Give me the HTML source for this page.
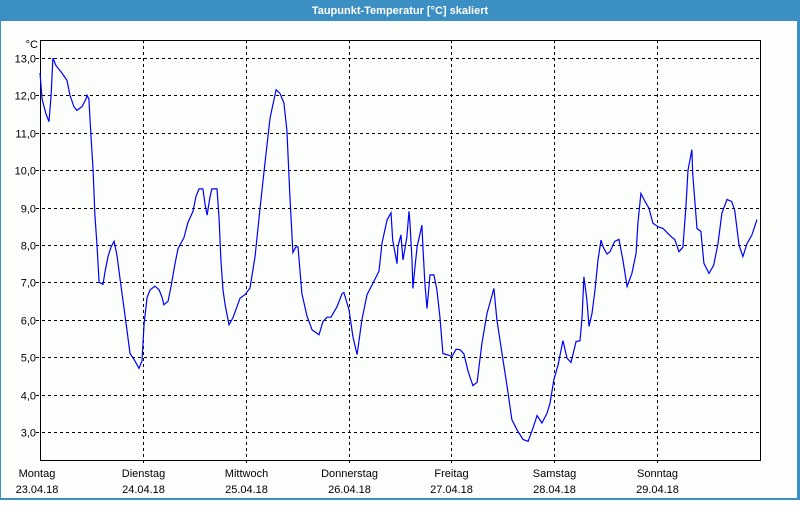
<!DOCTYPE html>
<html><head><meta charset="utf-8"><style>
body{margin:0;width:800px;height:500px;overflow:hidden;background:#fcfefc;font-family:"Liberation Sans",sans-serif}
</style></head><body>
<svg width="800" height="500" xmlns="http://www.w3.org/2000/svg" id="svg">
<rect x="0" y="0" width="800" height="500" fill="#fcfefc"/>
<rect x="0" y="0" width="800" height="21" fill="#3c8fc3"/>
<text x="400" y="14" text-anchor="middle" font-size="11" font-weight="bold" fill="#fff">Taupunkt-Temperatur [°C] skaliert</text>
<rect x="0" y="21" width="1" height="479" fill="#3c8fc3"/>
<rect x="797" y="21" width="3" height="479" fill="#3c8fc3"/>
<rect x="0" y="498" width="800" height="2" fill="#3c8fc3"/>
<text x="38" y="48" text-anchor="end" font-size="11" fill="#000">°C</text>
<g id="grid"></g>
<g id="labels"></g>
<rect x="40.5" y="40.5" width="720" height="420" fill="none" stroke="#000" stroke-width="1"/>
<path id="line" fill="none" stroke="#0000ff" stroke-width="1.2"/>
</svg>
<script>
const dayNames=["Montag","Dienstag","Mittwoch","Donnerstag","Freitag","Samstag","Sonntag"];
const dayDates=["23.04.18","24.04.18","25.04.18","26.04.18","27.04.18","28.04.18","29.04.18"];
const yTicks=[3,4,5,6,7,8,9,10,11,12,13];
const hours=[0,0.5,1.4,2.1,2.6,3.0,3.7,5.1,6.3,7.0,7.9,8.6,9.8,10.7,11.0,11.4,11.9,12.4,12.8,13.3,13.8,14.7,15.2,15.9,16.6,17.3,18.0,18.9,20.1,21.0,21.9,23.1,23.8,24.3,25.0,25.7,26.8,27.8,28.5,28.9,29.9,30.6,31.5,32.2,33.6,34.5,35.7,36.4,37.1,38.0,38.5,39.0,39.7,40.1,41.3,41.8,42.2,42.7,43.2,44.1,45.0,46.7,47.8,49.0,50.2,51.3,52.5,53.7,55.1,56.0,56.9,57.6,58.3,59.0,59.7,60.2,61.1,62.3,63.5,65.1,66.0,67.0,67.9,69.3,70.5,70.9,72.1,73.0,74.0,75.1,76.3,77.7,79.1,79.8,81.0,81.9,82.3,83.3,83.5,84.2,84.7,85.6,86.1,86.3,86.8,87.0,87.5,88.0,89.1,89.4,89.8,90.3,91.0,91.9,92.6,93.3,94.0,95.2,96.1,97.1,98.0,98.9,99.9,101.0,102.0,103.1,104.3,105.5,105.9,106.6,107.8,109.0,110.1,111.3,112.7,113.9,115.0,116.0,117.1,118.3,119.0,119.9,120.9,122.0,123.0,123.9,125.1,126.0,126.5,126.9,127.6,128.1,128.8,129.5,130.2,130.9,131.4,132.3,133.0,134.1,135.1,136.0,137.0,138.1,139.1,139.5,140.2,141.2,142.1,143.0,144.2,145.4,146.5,147.5,148.1,149.1,150.0,150.7,151.2,152.1,152.3,153.3,154.2,154.9,156.1,157.2,158.2,159.1,160.3,161.4,162.1,163.1,164.0,165.0,166.1,167.3];
const temps=[12.6,11.9,11.5,11.3,12.0,13.0,12.8,12.6,12.4,12.0,11.7,11.6,11.7,11.9,12.0,11.9,10.9,10.0,8.8,8.0,7.0,6.95,7.3,7.7,7.95,8.1,7.7,6.9,5.9,5.1,4.95,4.7,4.9,5.9,6.6,6.8,6.9,6.8,6.6,6.4,6.5,6.9,7.5,7.9,8.2,8.6,8.9,9.3,9.5,9.5,9.1,8.8,9.3,9.5,9.5,8.7,7.6,6.8,6.4,5.87,6.05,6.58,6.67,6.85,7.7,8.95,10.2,11.4,12.15,12.05,11.8,11.07,9.3,7.8,7.95,7.95,6.7,6.1,5.73,5.6,5.95,6.07,6.07,6.35,6.7,6.73,6.27,5.55,5.07,6.0,6.67,6.98,7.3,8.05,8.67,8.86,8.13,7.5,7.95,8.27,7.6,8.22,8.9,8.62,7.6,6.84,7.42,7.95,8.53,7.86,6.97,6.3,7.2,7.2,6.8,6.08,5.1,5.06,5.02,5.21,5.2,5.09,4.62,4.24,4.33,5.37,6.17,6.66,6.84,6.0,5.1,4.22,3.33,3.06,2.8,2.75,3.1,3.44,3.24,3.5,3.77,4.4,4.8,5.44,4.97,4.86,5.42,5.44,6.08,7.15,6.53,5.82,6.17,6.8,7.6,8.13,7.95,7.76,7.82,8.1,8.15,7.6,6.89,7.24,7.78,8.58,9.38,9.16,8.98,8.58,8.49,8.44,8.31,8.2,8.15,7.82,7.94,9.02,10.0,10.55,9.91,8.44,8.36,7.51,7.24,7.46,8.04,8.85,9.22,9.16,8.93,8.0,7.69,8.04,8.27,8.68];
const X0=40,X1=760,Y13=58,PXD=37.4;
const xScale=h=>X0+(h/168)*(X1-X0);
const yScale=v=>Y13+(13-v)*PXD;
const NS="http://www.w3.org/2000/svg";
const grid=document.getElementById('grid'),labels=document.getElementById('labels');
yTicks.forEach(v=>{
 const y=Math.round(yScale(v))+0.5;
 const l=document.createElementNS(NS,'line');
 l.setAttribute('x1',36);l.setAttribute('x2',760);l.setAttribute('y1',y);l.setAttribute('y2',y);
 l.setAttribute('stroke','#000');l.setAttribute('stroke-dasharray','3,3');
 
 
 grid.appendChild(l);
 const t=document.createElementNS(NS,'text');
 t.setAttribute('x',36);t.setAttribute('y',y+4);t.setAttribute('text-anchor','end');t.setAttribute('font-size','11');
 t.textContent=v.toFixed(1).replace('.',',');
 
 
 labels.appendChild(t);
});
dayNames.forEach((d,i)=>{
 const x=Math.round(xScale(i*24))+0.5;
 if(i>0){
  const l=document.createElementNS(NS,'line');
  l.setAttribute('x1',x);l.setAttribute('x2',x);l.setAttribute('y1',40);l.setAttribute('y2',464);
  l.setAttribute('stroke','#000');l.setAttribute('stroke-dasharray','3,3');
  
  
  grid.appendChild(l);
 }
 const cx=i===0?37:x;
 const t=document.createElementNS(NS,'text');
 t.setAttribute('x',cx);t.setAttribute('y',477);t.setAttribute('text-anchor','middle');t.setAttribute('font-size','11');
 t.textContent=d;
 
 
 labels.appendChild(t);
 const t2=document.createElementNS(NS,'text');
 t2.setAttribute('x',cx);t2.setAttribute('y',493);t2.setAttribute('text-anchor','middle');t2.setAttribute('font-size','11');
 t2.textContent=dayDates[i];
 
 
 labels.appendChild(t2);
});
let d='';
hours.forEach((h,i)=>{d+=(i?'L':'M')+xScale(h).toFixed(1)+','+yScale(temps[i]).toFixed(1);});
document.getElementById('line').setAttribute('d',d);
</script>
</body></html>
